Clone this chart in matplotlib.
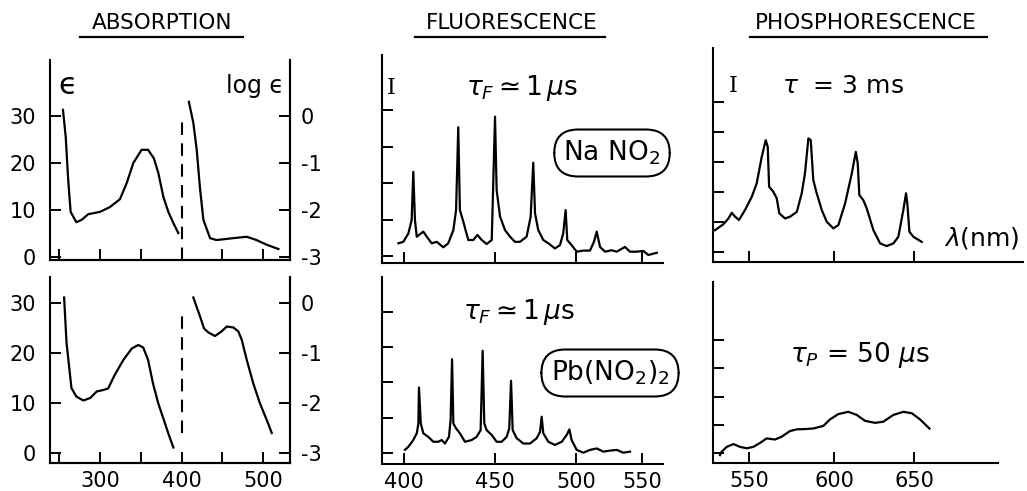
import numpy as np
import matplotlib.pyplot as plt
from matplotlib.lines import Line2D

plt.rcParams['font.family'] = 'DejaVu Sans'
plt.rcParams['mathtext.fontset'] = 'dejavusans'
plt.rcParams['axes.unicode_minus'] = False

# ---- absorption (epsilon on left axis, log epsilon on right axis) ----
abs1_eps_nm = [254.6, 258, 261, 264, 271, 277.5, 285.6, 300, 312, 324.5, 332.7, 340.9,
               351, 359, 366, 371.5, 377.7, 383.8, 390, 396]
abs1_eps = [31.3, 25.5, 16.4, 9.6, 7.4, 7.9, 9.1, 9.6, 10.6, 12.3, 15.7, 20.0,
            22.8, 22.8, 21.0, 17.9, 12.8, 9.6, 7.2, 5.1]
abs1_log_nm = [409, 414.5, 418.6, 422.7, 426.8, 435, 443, 463, 480, 492, 504.5, 518.8]
abs1_log = [0.30, -0.15, -0.72, -1.55, -2.21, -2.60, -2.64, -2.60, -2.57, -2.64, -2.74, -2.83]

abs2_eps_nm = [256, 259, 263, 265, 271, 279.5, 288, 296, 304, 310, 318, 328.6, 339,
               347, 353, 359, 365, 371.5, 377.7, 383.8, 390]
abs2_eps = [31.1, 22.0, 16.0, 13.0, 11.3, 10.5, 11.0, 12.3, 12.6, 12.9, 15.6, 18.6, 20.9,
            21.6, 21.1, 18.6, 13.9, 9.9, 6.9, 3.9, 1.1]
abs2_log_nm = [414.5, 422.7, 427.6, 433, 441, 449, 455.5, 463.6, 469.7, 473.9, 480, 488,
               496, 504.5, 510.6]
abs2_log = [0.11, -0.27, -0.51, -0.59, -0.66, -0.57, -0.47, -0.49, -0.57, -0.74, -1.14,
            -1.61, -2.00, -2.34, -2.60]

# ---- fluorescence ----
fl1_nm = [396.9, 399.6, 402.4, 404.2, 405.1, 406.0, 407.0, 410.6, 412.5, 415.2, 418.0,
          421.6, 424.3, 427.1, 428.6, 429.8, 430.7, 432.6, 435.3, 438.1, 440.3, 442.7,
          445.4, 448.2, 450.0, 451.0, 453.1, 456.2, 459.3, 462.3, 465.4, 469.5, 472.0,
          473.6, 474.7, 476.7, 479.8, 482.9, 487.0, 490.1, 492.1, 493.6, 494.6, 497.3,
          500.5, 505.5, 510.6, 513.6, 515.7, 518.2, 522.0, 527.0, 530.8, 537.1, 540.9,
          546.0, 551.0, 554.8, 561.2]
fl1_int = [0.35, 0.39, 0.62, 0.99, 2.31, 0.99, 0.53, 0.67, 0.53, 0.35, 0.39,
           0.24, 0.35, 0.71, 1.26, 3.53, 1.26, 0.94, 0.44, 0.44, 0.58, 0.44,
           0.33, 0.44, 3.82, 1.81, 1.08, 0.71, 0.53, 0.39, 0.39, 0.53, 1.08,
           2.56, 1.17, 0.71, 0.44, 0.35, 0.21, 0.30, 0.62, 1.26, 0.44, 0.30,
           0.12, 0.15, 0.15, 0.39, 0.67, 0.25, 0.12, 0.16, 0.12, 0.25, 0.12,
           0.12, 0.14, 0.03, 0.09]

fl2_nm = [400.5, 402.4, 405.1, 407.0, 407.9, 408.2, 409.2, 410.6, 413.3, 416.1, 418.8,
          420.7, 422.5, 424.7, 425.6, 426.4, 427.1, 428.6, 430.7, 433.5, 437.2, 439.9,
          442.1, 443.2, 444.1, 445.4, 448.2, 451.0, 454.1, 457.2, 458.8, 459.9, 460.9,
          463.4, 467.5, 471.6, 475.7, 477.8, 478.8, 479.8, 482.9, 487.0, 491.2, 494.2,
          495.9, 497.3, 500.5, 505.5, 510.6, 515.7, 520.7, 525.8, 530.8, 535.8, 540.9]
fl2_int = [0.09, 0.18, 0.37, 0.56, 0.84, 1.86, 0.84, 0.56, 0.46, 0.32, 0.32,
           0.37, 0.27, 0.46, 0.94, 2.66, 0.84, 0.70, 0.56, 0.32, 0.37, 0.46,
           0.65, 2.90, 0.84, 0.65, 0.51, 0.32, 0.32, 0.46, 0.70, 2.05, 0.65,
           0.42, 0.27, 0.27, 0.42, 0.60, 1.03, 0.56, 0.32, 0.23, 0.32, 0.51,
           0.67, 0.37, 0.09, 0.01, 0.09, 0.13, 0.04, 0.07, 0.09, 0.01, 0.04]

# ---- phosphorescence ----
ph1_nm = [530.0, 534.9, 537.9, 539.8, 541.8, 544.1, 547.6, 551.6, 554.5, 557.5, 559.8,
          561.0, 561.8, 564.3, 566.3, 567.8, 571.2, 574.1, 578.1, 581.0, 582.9, 584.9,
          586.3, 587.8, 589.8, 592.8, 595.7, 599.6, 602.7, 606.9, 611.1, 613.6, 614.8,
          615.8, 618.3, 620.4, 624.6, 628.8, 632.9, 637.1, 640.2, 643.3, 645.0, 645.8,
          647.1, 649.6, 654.8]
ph1_int = [0.73, 0.93, 1.12, 1.31, 1.18, 1.07, 1.40, 1.84, 2.29, 3.18, 3.73,
           3.51, 2.18, 2.01, 1.79, 1.29, 1.12, 1.18, 1.34, 1.96, 2.62, 3.79,
           3.73, 2.40, 1.96, 1.40, 1.01, 0.79, 0.90, 1.62, 2.62, 3.34, 2.96,
           1.90, 1.73, 1.46, 0.73, 0.29, 0.20, 0.29, 0.51, 1.40, 1.96, 1.62,
           0.68, 0.51, 0.34]

ph2_nm = [532.9, 533.9, 536.9, 540.8, 544.7, 548.6, 552.5, 556.5, 560.4, 565.3, 569.2,
          574.1, 578.1, 582.9, 587.8, 593.7, 597.6, 602.7, 608.9, 614.2, 619.4, 625.6,
          630.8, 637.1, 643.3, 648.6, 653.8, 659.6]
ph2_int = [-0.07, 0.05, 0.22, 0.32, 0.22, 0.17, 0.22, 0.36, 0.52, 0.48, 0.58,
           0.78, 0.84, 0.85, 0.87, 0.96, 1.19, 1.38, 1.46, 1.35, 1.14, 1.07,
           1.11, 1.35, 1.46, 1.41, 1.19, 0.87]

# hand-drawn wavelength axes are not evenly spaced: tick wavelength -> drawn position
fl_knot_nm = [350, 400, 450, 500, 550, 600]
fl_knot_px = [313, 404, 495, 576, 642, 708]
ph_knot_nm = [500, 550, 600, 650, 700, 750]
ph_knot_px = [664, 749, 834, 914, 994, 1074]

W, H = 1027, 491
fig = plt.figure(figsize=(W / 100, H / 100), dpi=100)
LW = 1.6
FS_TICK = 15
TICK = dict(direction='in', length=8, width=1.4, color='black')


def box(left, top, right, bottom):
    return [left / W, 1 - bottom / H, (right - left) / W, (bottom - top) / H]


def at(x, y):
    return x / W, 1 - y / H


def style(ax, right=False):
    for side in ['top', 'right']:
        ax.spines[side].set_visible(False)
    for side in ['left', 'bottom']:
        ax.spines[side].set_linewidth(1.5)
    if right:
        ax.spines['right'].set_visible(True)
        ax.spines['right'].set_linewidth(1.5)
    ax.set_facecolor('none')


# absorption panels
for row, (eps_nm, eps, log_nm, logv, pos, ylim, dash) in enumerate([
        (abs1_eps_nm, abs1_eps, abs1_log_nm, abs1_log, box(50, 60, 290, 260), (-0.64, 41.9), (29.8, -0.64)),
        (abs2_eps_nm, abs2_eps, abs2_log_nm, abs2_log, box(50, 277, 290, 463), (-2.0, 35.2), (28.0, 4.0))]):
    ax = fig.add_axes(pos)
    style(ax, right=True)
    ax.plot(eps_nm, eps, color='black', lw=LW)
    ax.vlines(400, dash[1], dash[0], colors='black', lw=1.5, linestyles=(0, (6, 4)))
    ax.set_xlim(238.7, 533)
    ax.set_ylim(*ylim)
    ax.set_xticks([300, 400, 500])
    ax.set_xticks([250, 350, 450], minor=True)
    ax.set_yticks([0, 10, 20, 30])
    ax.tick_params(axis='both', which='both', **TICK)
    ax.tick_params(axis='y', labelsize=FS_TICK, pad=10)
    ax.tick_params(axis='x', labelsize=FS_TICK, pad=6, labelbottom=(row == 1))
    tw = ax.twinx()
    style(tw, right=True)
    tw.spines['left'].set_visible(False)
    tw.plot(log_nm, logv, color='black', lw=LW)
    tw.set_ylim(ylim[0] / 10 - 3, ylim[1] / 10 - 3)
    tw.set_yticks([0, -1, -2, -3])
    tw.set_yticklabels(['0', '-1', '-2', '-3'])
    tw.tick_params(axis='y', labelsize=FS_TICK, pad=8, **TICK)


def fl_fwd(x):
    return np.interp(x, fl_knot_nm, fl_knot_px)


def fl_inv(p):
    return np.interp(p, fl_knot_px, fl_knot_nm)


def ph_fwd(x):
    return np.interp(x, ph_knot_nm, ph_knot_px)


def ph_inv(p):
    return np.interp(p, ph_knot_px, ph_knot_nm)


# fluorescence panels
for row, (nm, inten, pos, ylim) in enumerate([
        (fl1_nm, fl1_int, box(382, 55, 663, 263), (-0.19, 5.51)),
        (fl2_nm, fl2_int, box(382, 277, 663, 464), (-0.31, 4.99))]):
    ax = fig.add_axes(pos)
    style(ax)
    ax.set_xscale('function', functions=(fl_fwd, fl_inv))
    ax.plot(nm, inten, color='black', lw=LW)
    ax.set_xlim(387.9, 565.9)
    ax.set_ylim(*ylim)
    ax.set_xticks([400, 450, 500, 550])
    ax.xaxis.set_minor_locator(plt.NullLocator())
    ax.set_yticks(range(5))
    ax.tick_params(axis='both', which='both', **TICK)
    ax.tick_params(axis='y', labelleft=False)
    ax.tick_params(axis='x', labelsize=FS_TICK, pad=6, labelbottom=(row == 1))

# phosphorescence panels
for row, (nm, inten, pos, ylim, xmax, nt) in enumerate([
        (ph1_nm, ph1_int, box(713, 48, 1023, 262), (-0.33, 6.8), 718.1, 6),
        (ph2_nm, ph2_int, box(713, 282, 998, 463), (-0.35, 6.05), 702.5, 5)]):
    ax = fig.add_axes(pos)
    style(ax)
    ax.set_xscale('function', functions=(ph_fwd, ph_inv))
    ax.plot(nm, inten, color='black', lw=LW)
    ax.set_xlim(528.8, xmax)
    ax.set_ylim(*ylim)
    ax.set_xticks([550, 600, 650])
    ax.xaxis.set_minor_locator(plt.NullLocator())
    ax.set_yticks(range(nt))
    ax.tick_params(axis='both', which='both', **TICK)
    ax.tick_params(axis='y', labelleft=False)
    ax.tick_params(axis='x', labelsize=FS_TICK, pad=6, labelbottom=(row == 1))

# column headings, underlined
for label, cx, x0, x1 in [('ABSORPTION', 162, 80, 243),
                          ('FLUORESCENCE', 512, 415, 605),
                          ('PHOSPHORESCENCE', 866, 750, 987)]:
    fig.text(*at(cx, 23), label, ha='center', va='center', fontsize=15.5)
    fig.add_artist(Line2D([x0 / W, x1 / W], [1 - 37 / H] * 2,
                          transform=fig.transFigure, color='black', lw=1.6))

# in-panel annotations
fig.text(*at(68, 86), '\u03f5', ha='center', va='center', fontsize=22)
fig.text(*at(255, 86), 'log \u03f5', ha='center', va='center', fontsize=17)
fig.text(*at(391, 88), 'I', ha='center', va='center', fontsize=16, family='DejaVu Serif')
fig.text(*at(522, 88), r'$\tau_F \simeq 1\,\mu$s', ha='center', va='center', fontsize=19)
fig.text(*at(519, 312), r'$\tau_F \simeq 1\,\mu$s', ha='center', va='center', fontsize=19)
fig.text(*at(733, 86), 'I', ha='center', va='center', fontsize=16, family='DejaVu Serif')
fig.text(*at(843, 86), r'$\tau$  = 3 ms', ha='center', va='center', fontsize=18)
fig.text(*at(860, 355), r'$\tau_P$ = 50 $\mu$s', ha='center', va='center', fontsize=19)
fig.text(*at(982, 238), r'$\lambda$(nm)', ha='center', va='center', fontsize=18)

pill = dict(boxstyle='round,pad=0.35,rounding_size=0.9', facecolor='white',
            edgecolor='black', linewidth=1.5)
fig.text(*at(612, 153), r'Na NO$_2$', ha='center', va='center', fontsize=19, bbox=pill)
fig.text(*at(610, 373), r'Pb(NO$_2$)$_2$', ha='center', va='center', fontsize=19, bbox=pill)

fig.savefig('out.png', dpi=100)
